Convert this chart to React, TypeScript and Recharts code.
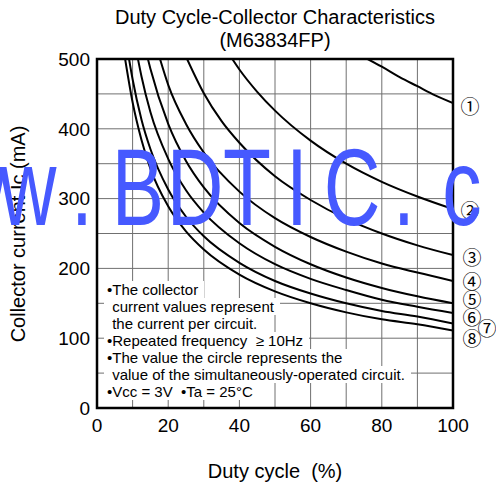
import React from 'react';
import {
  CartesianGrid,
  Line,
  LineChart,
  ReferenceArea,
  XAxis,
  YAxis,
} from 'recharts';

const FONT = '"Liberation Sans", Arial, Helvetica, sans-serif';

// grid every 10 % / 50 mA, labels every 20 % / 100 mA
const xTicks = [0, 10, 20, 30, 40, 50, 60, 70, 80, 90, 100];
const yTicks = [0, 50, 100, 150, 200, 250, 300, 350, 400, 450, 500];

// [duty %, collector current mA]
const curve1 = [[76, 500], [80, 489], [85, 474], [90, 461], [95, 448], [100, 437]];
const curve2 = [[38, 500], [40, 485], [45, 453], [50, 426], [60, 383], [70, 350], [80, 324], [90, 303], [100, 285]];
const curve3 = [[25.3, 500], [30, 451], [35, 411], [40, 380], [50, 332], [60, 298], [70, 271], [80, 250], [90, 233], [100, 219]];
const curve4 = [[17.7, 500], [20, 463], [25, 407], [30, 366], [40, 310], [50, 272], [60, 245], [70, 224], [80, 207], [90, 194], [100, 182]];
const curve5 = [[14.3, 500], [15, 486], [20, 407], [25, 354], [30, 316], [40, 265], [50, 231], [60, 206], [70, 187], [80, 172], [90, 160], [100, 150]];
const curve6 = [[11.5, 500], [12.5, 475], [15, 424], [20, 357], [25, 312], [30, 280], [40, 236], [50, 206], [60, 185], [70, 169], [80, 155], [90, 145], [100, 136]];
const curve7 = [[9, 500], [10, 471], [12.5, 413], [15, 371], [20, 313], [25, 274], [30, 246], [40, 208], [50, 182], [60, 164], [70, 150], [80, 139], [90, 131], [100, 121]];
const curve8 = [[7.9, 500], [10, 438], [12.5, 384], [15, 343], [20, 289], [25, 253], [30, 227], [40, 191], [50, 167], [60, 150], [70, 137], [80, 127], [90, 120], [100, 111]];

const curves = [curve1, curve2, curve3, curve4, curve5, curve6, curve7, curve8];

const curveLabels = ['①', '②', '③', '④', '⑤', '⑥', '⑦', '⑧'];
const labelPos = [
  [470, 106],
  [470, 210],
  [472, 257],
  [472, 281],
  [472, 299],
  [472, 317],
  [487, 328],
  [472, 338],
];

const notes = [
  '•The collector',
  ' current values represent',
  ' the current per circuit.',
  '•Repeated frequency  ≥ 10Hz',
  '•The value the circle represents the',
  ' value of the simultaneously-operated circuit.',
  '•Vcc = 3V  •Ta = 25°C',
];

const watermark = ['w', 'w', 'w', '.', 'B', 'D', 'T', 'I', 'C', '.', 'c', 'o', 'm'];
const watermarkX = [-76, -23, 28, 82, 138, 195, 247, 297, 352, 404, 462, 515, 572];

const toPoints = (c: number[][]) => c.map(([d, ma]) => ({ d, ma }));

export default function App() {
  return (
    <div
      style={{
        position: 'absolute',
        left: 0,
        top: 0,
        width: 496,
        height: 486,
        background: '#fff',
        fontFamily: FONT,
        color: '#000',
        overflow: 'hidden',
      }}
    >
      <div
        style={{
          position: 'absolute',
          left: 0,
          width: 550,
          top: 6,
          textAlign: 'center',
          fontSize: 20,
          lineHeight: '23px',
        }}
      >
        Duty Cycle-Collector Characteristics
        <br />
        (M63834FP)
      </div>

      <LineChart
        width={496}
        height={486}
        margin={{ top: 59, right: 43, bottom: 0, left: 0 }}
        style={{ position: 'absolute', left: 0, top: 0 }}
      >
        <CartesianGrid stroke="#707070" strokeWidth={1} />
        <XAxis
          type="number"
          dataKey="d"
          domain={[0, 100]}
          ticks={xTicks}
          tickFormatter={(v: number) => (v % 20 === 0 ? String(v) : '')}
          tick={{ fontSize: 19, fill: '#000', fontFamily: FONT }}
          tickLine={false}
          axisLine={false}
          tickMargin={5}
          height={78}
          allowDataOverflow
        />
        <YAxis
          type="number"
          domain={[0, 500]}
          ticks={yTicks}
          tickFormatter={(v: number) => (v % 100 === 0 ? String(v) : '')}
          tick={{ fontSize: 19, fill: '#000', fontFamily: FONT }}
          tickLine={false}
          axisLine={false}
          tickMargin={1}
          width={97}
          allowDataOverflow
        />
        {curves.map((c, i) => (
          <Line
            key={i}
            data={toPoints(c)}
            dataKey="ma"
            type="monotone"
            stroke="#000"
            strokeWidth={2}
            dot={false}
            activeDot={false}
            isAnimationActive={false}
          />
        ))}
        <ReferenceArea
          x1={0}
          x2={100}
          y1={0}
          y2={500}
          fill="none"
          stroke="#000"
          strokeWidth={2.5}
          ifOverflow="visible"
        />
      </LineChart>

      {notes.map((t, i) => (
        <div
          key={i}
          style={{
            position: 'absolute',
            left: 104,
            top: 280.5 + i * 17.1,
            height: 17,
            lineHeight: '17px',
            fontSize: 15,
            whiteSpace: 'pre',
            background: '#fff',
            paddingLeft: t.startsWith('•') ? 3 : 4,
            paddingRight: 6,
          }}
        >
          {t}
        </div>
      ))}

      {curveLabels.map((s, i) => (
        <div
          key={s}
          style={{
            position: 'absolute',
            left: labelPos[i][0] - 12,
            top: labelPos[i][1] - 12,
            width: 24,
            height: 24,
            lineHeight: '24px',
            textAlign: 'center',
            fontSize: 19,
            fontFamily: '"Noto Sans CJK JP", "DejaVu Sans", sans-serif',
          }}
        >
          {s}
        </div>
      ))}

      <div
        style={{
          position: 'absolute',
          left: 18,
          top: 234,
          transform: 'translate(-50%, -50%) rotate(-90deg)',
          fontSize: 20,
          whiteSpace: 'nowrap',
        }}
      >
        Collector current Ic (mA)
      </div>

      <div
        style={{
          position: 'absolute',
          left: 0,
          width: 550,
          top: 460,
          lineHeight: '23px',
          textAlign: 'center',
          fontSize: 20,
          whiteSpace: 'pre',
        }}
      >
        Duty cycle  (%)
      </div>

      <svg
        width={496}
        height={486}
        style={{ position: 'absolute', left: 0, top: 0, pointerEvents: 'none' }}
      >
        {watermark.map((ch, i) => (
          <text
            key={i}
            x={watermarkX[i]}
            y={225}
            textAnchor="middle"
            fontSize={109}
            fontFamily={FONT}
            fill="#4659ff"
            transform={`translate(${watermarkX[i]} 0) scale(0.72 1) translate(${-watermarkX[i]} 0)`}
          >
            {ch}
          </text>
        ))}
      </svg>
    </div>
  );
}
